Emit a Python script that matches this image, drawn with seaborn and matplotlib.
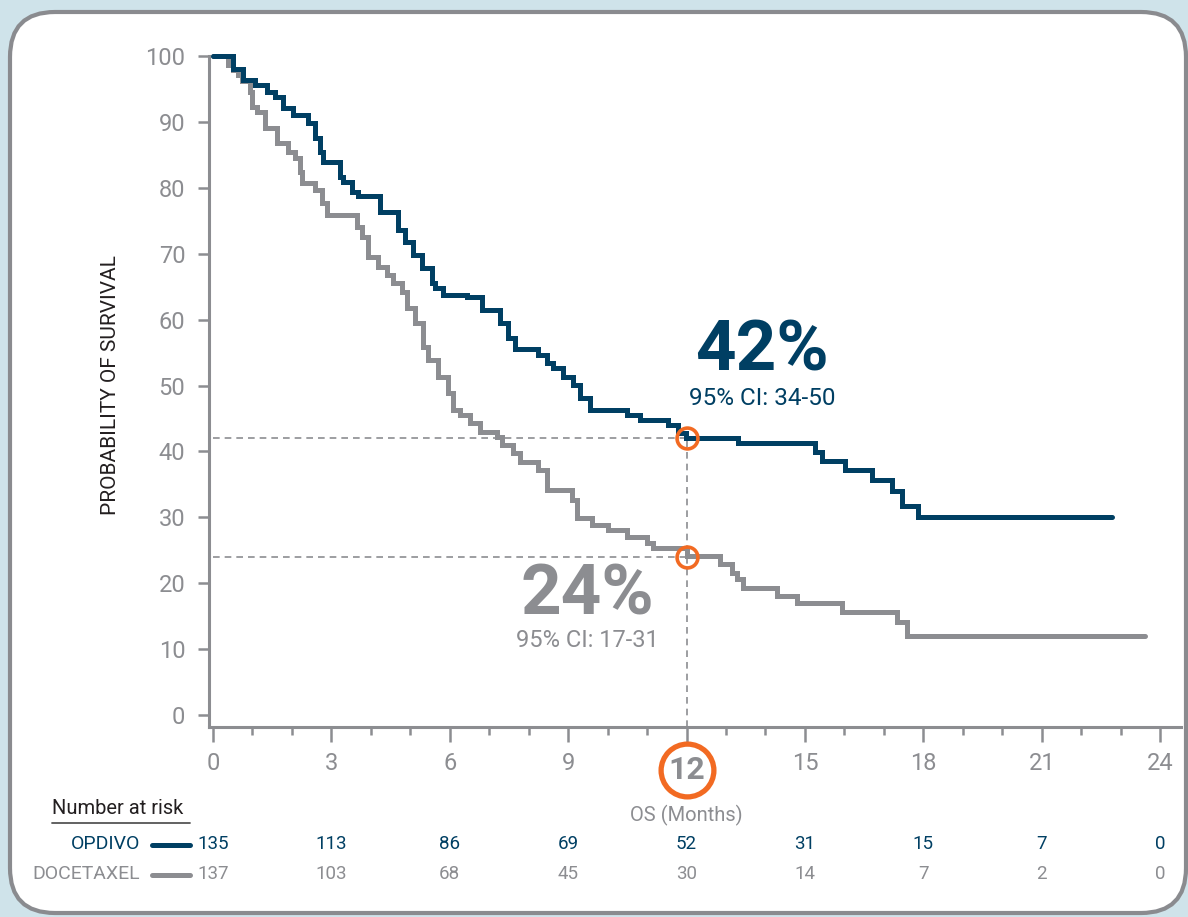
import pandas as pd
import seaborn as sns
import matplotlib.pyplot as plt
from matplotlib.patches import FancyBboxPatch
from matplotlib.lines import Line2D
from matplotlib.transforms import blended_transform_factory

# Kaplan-Meier steps (month, % surviving)
opdivo_months = [0, 0.51, 0.76, 1.06, 1.37, 1.57, 1.77, 2.03, 2.41, 2.58, 2.71, 2.79,
                 3.22, 3.29, 3.52, 3.67, 4.23, 4.69, 4.87, 5.07, 5.30, 5.55, 5.63,
                 5.83, 6.44, 6.82, 7.27, 7.48, 7.65, 8.24, 8.46, 8.62, 8.87, 9.12,
                 9.30, 9.55, 10.49, 10.82, 11.53, 11.78, 11.99, 13.30, 15.26, 15.43,
                 16.02, 16.70, 17.21, 17.46, 17.87, 22.78]
opdivo_surv = [100, 98.0, 96.4, 95.6, 94.5, 93.8, 92.1, 91.0, 89.8, 87.6, 85.4, 83.9,
               81.6, 80.9, 79.4, 78.8, 76.3, 73.6, 71.8, 69.8, 67.8, 65.6, 64.8,
               63.7, 63.4, 61.5, 59.5, 57.2, 55.5, 54.6, 53.4, 52.7, 51.3, 50.1,
               48.1, 46.3, 45.5, 44.8, 44.0, 42.8, 42.0, 41.3, 39.9, 38.6,
               37.2, 35.7, 34.0, 31.7, 30.0, 30.0]

docetaxel_months = [0, 0.38, 0.51, 0.63, 0.73, 0.94, 0.99, 1.12, 1.32, 1.62, 1.90, 2.08,
                    2.20, 2.26, 2.58, 2.76, 2.89, 3.65, 3.78, 3.93, 4.18, 4.41, 4.56,
                    4.79, 4.92, 5.12, 5.32, 5.45, 5.70, 5.96, 6.08, 6.26, 6.51, 6.77,
                    7.20, 7.32, 7.60, 7.78, 8.24, 8.46, 9.10, 9.22, 9.60, 10.01, 10.49,
                    11.00, 11.15, 12.01, 12.85, 13.15, 13.28, 13.43, 14.29, 14.80,
                    15.94, 17.33, 17.59, 23.62]
docetaxel_surv = [100, 98.6, 97.9, 97.1, 96.2, 94.5, 92.3, 91.5, 89.1, 86.8, 85.4, 84.5,
                  82.4, 80.7, 79.7, 77.7, 75.9, 74.0, 72.5, 69.5, 68.0, 66.8, 65.6,
                  64.2, 61.8, 59.5, 55.8, 53.9, 51.3, 48.9, 46.3, 45.5, 44.3, 42.9,
                  42.2, 41.0, 39.8, 38.4, 37.2, 34.1, 32.6, 29.9, 28.8, 28.1, 27.0,
                  26.1, 25.3, 24.1, 23.0, 21.5, 20.6, 19.3, 18.1, 17.0,
                  15.6, 14.1, 12.0, 12.0]

risk_months = [0, 3, 6, 9, 12, 15, 18, 21, 24]
risk_opdivo = [135, 113, 86, 69, 52, 31, 15, 7, 0]
risk_docetaxel = [137, 103, 68, 45, 30, 14, 7, 2, 0]

landmark_month = 12
landmark_opdivo = 42
landmark_docetaxel = 24

NAVY = "#003f63"
GREY = "#8c8d91"
ORANGE = "#f26a22"
INK = "#231f20"

sns.set_style("white")
plt.rcParams["font.family"] = ["Roboto", "DejaVu Sans"]

df = pd.concat([
    pd.DataFrame({"month": docetaxel_months, "surv": docetaxel_surv, "arm": "DOCETAXEL"}),
    pd.DataFrame({"month": opdivo_months, "surv": opdivo_surv, "arm": "OPDIVO"}),
])

W, H = 1188, 917
fig = plt.figure(figsize=(W / 100, H / 100), dpi=100, facecolor="#cfe3ea")


def px(x, y):
    return x / W, 1 - y / H


# white rounded panel
panel = FancyBboxPatch((0.10, 0.04), 11.76, 9.01,
                       boxstyle="round,pad=0,rounding_size=0.45",
                       transform=fig.dpi_scale_trans, facecolor="white",
                       edgecolor="#8a8b8f", linewidth=3, zorder=-5)
fig.add_artist(panel)

l, b = px(209, 727)
r, t = px(1181, 56)
ax = fig.add_axes([l, b, r - l, t - b])
ax.set_facecolor("none")

sns.lineplot(data=df, x="month", y="surv", hue="arm",
             hue_order=["DOCETAXEL", "OPDIVO"], palette=[GREY, NAVY],
             estimator=None, sort=False, drawstyle="steps-post",
             linewidth=3.6, legend=False, ax=ax, zorder=3)
for ln in ax.lines:
    ln.set_clip_on(False)
    ln.set_solid_joinstyle("miter")

ax.set_xlim(-0.1, 24.53)
ax.set_ylim(-1.8, 100)

# dashed guides to the 12-month landmark
for val in (landmark_opdivo, landmark_docetaxel):
    ax.plot([0, landmark_month], [val, val], color=GREY, lw=1.2,
            ls=(0, (4, 3)), zorder=2)
ax.plot([landmark_month, landmark_month], [-1.8, landmark_opdivo], color=GREY,
        lw=1.2, ls=(0, (4, 3)), zorder=2)
ax.plot([landmark_month] * 2, [landmark_opdivo, landmark_docetaxel], ls="none",
        marker="o", ms=15, mfc="none", mec=ORANGE, mew=2.6, zorder=4)

# axes styling
for s in ("top", "right"):
    ax.spines[s].set_visible(False)
for s in ("left", "bottom"):
    ax.spines[s].set_color(GREY)
    ax.spines[s].set_linewidth(2.2)

ax.set_xticks(risk_months)
ax.set_xticklabels(["" if m == landmark_month else str(m) for m in risk_months])
ax.set_xticks(range(0, 25), minor=True)
ax.set_yticks(range(0, 101, 10))
ax.tick_params(axis="x", which="major", length=11, width=1.8, color=GREY,
               labelsize=17, labelcolor=GREY, pad=7, direction="out", bottom=True)
ax.tick_params(axis="x", which="minor", length=6, width=1.8, color=GREY,
               direction="out", bottom=True)
ax.tick_params(axis="y", length=8, width=1.8, color=GREY, labelsize=17,
               labelcolor=GREY, pad=9, direction="out", left=True)

ax.set_xlabel("")
ax.set_ylabel("PROBABILITY OF SURVIVAL", fontsize=15, color=INK)
ax.yaxis.set_label_coords(-0.092, 0.51)

# circled 12
ax.plot([landmark_month], [-8.35], marker="o", ms=38, mfc="white", mec=ORANGE,
        mew=3.8, clip_on=False, zorder=5)
ax.text(landmark_month, -8.35, "12", ha="center", va="center", fontsize=23,
        fontweight="bold", color=GREY, zorder=6, clip_on=False)

fig.text(*px(686, 815), "OS (Months)", ha="center", va="center",
         fontsize=14.5, color=GREY)

# landmark annotations
ax.text(13.91, 55.3, "42%", ha="center", va="center", fontsize=51,
        fontweight="bold", color=NAVY)
ax.text(13.91, 48.0, "95% CI: 34-50", ha="center", va="center", fontsize=17.5,
        color=NAVY)
ax.text(9.48, 18.2, "24%", ha="center", va="center", fontsize=51,
        fontweight="bold", color=GREY)
ax.text(9.48, 11.3, "95% CI: 17-31", ha="center", va="center", fontsize=17,
        color=GREY)

# number at risk table
fig.text(*px(52, 808), "Number at risk", ha="left", va="center", fontsize=14.5,
         color=INK)
fig.add_artist(Line2D([52 / W, 190 / W], [1 - 823 / H] * 2, color="#555555",
                      lw=1.3, transform=fig.transFigure))
trans = blended_transform_factory(ax.transData, fig.transFigure)
for name, counts, color, y in (("OPDIVO", risk_opdivo, NAVY, 844),
                               ("DOCETAXEL", risk_docetaxel, GREY, 874)):
    fig.text(*px(140, y), name, ha="right", va="center", fontsize=14, color=color)
    fig.add_artist(Line2D([152 / W, 190 / W], [1 - (y + 1) / H] * 2, color=color,
                          lw=3.6, transform=fig.transFigure))
    for m, n in zip(risk_months, counts):
        ax.text(m, 1 - y / H, str(n), transform=trans, ha="center", va="center",
                fontsize=13.5, color=color, clip_on=False)

fig.savefig("out.png", dpi=100, facecolor=fig.get_facecolor())
